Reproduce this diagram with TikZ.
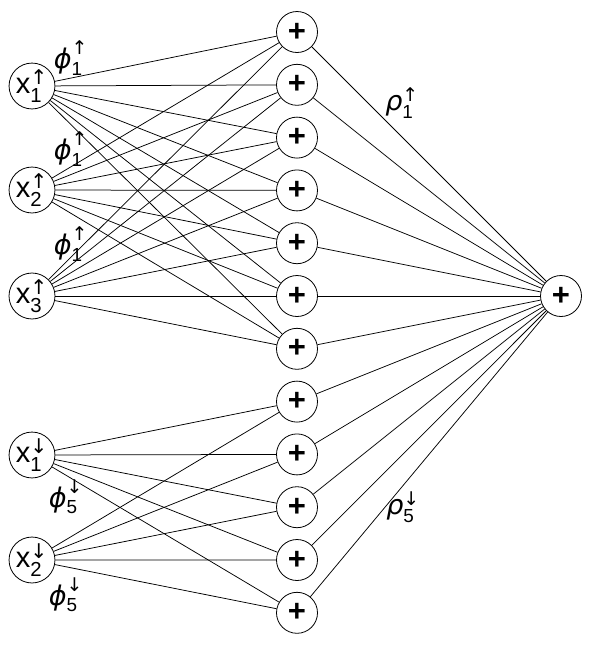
\documentclass[tikz,border=0pt]{standalone}
\usepackage{fontspec}
\usepackage{amsmath}
\setmainfont{Liberation Sans}
\newfontfamily\grk{DejaVu Sans}
\newcommand{\upar}{\text{\grk ↑}}
\newcommand{\dnar}{\text{\grk ↓}}
\newcommand{\gphi}{\text{\grk\itshape ϕ}}
\newcommand{\grho}{\text{\grk\itshape ρ}}
\begin{document}
\begin{tikzpicture}[x=1pt,y=-1pt,
  unit/.style={circle,draw,minimum size=41pt,inner sep=0pt,line width=0.8pt,font=\fontsize{29}{32}\selectfont},
  plus/.style={unit,font=\fontsize{31}{34}\selectfont\bfseries},
  conn/.style={line width=0.75pt},
  lbl/.style={font=\fontsize{27}{30}\selectfont,inner sep=0pt}]
\useasboundingbox (0,0) rectangle (598,649);
% left nodes
\node[unit] (u1) at (32,86) {$\text{x}^{\upar}_{\text{1}}$};
\node[unit] (u2) at (32,190) {$\text{x}^{\upar}_{\text{2}}$};
\node[unit] (u3) at (32,296) {$\text{x}^{\upar}_{\text{3}}$};
\node[unit] (d1) at (32,455) {$\text{x}^{\dnar}_{\text{1}}$};
\node[unit] (d2) at (32,560) {$\text{x}^{\dnar}_{\text{2}}$};
% middle nodes
\foreach \i in {1,...,12} {
  \node[plus] (m\i) at (297,{32+52.8*(\i-1)}) {+};
}
\node[plus] (out) at (561,296) {+};
% connections
\foreach \a in {u1,u2,u3} {
  \foreach \i in {1,...,7} {
    \draw[conn] (\a) -- (m\i);
  }
}
\foreach \a in {d1,d2} {
  \foreach \i in {8,...,12} {
    \draw[conn] (\a) -- (m\i);
  }
}
\foreach \i in {1,...,12} {
  \draw[conn] (m\i) -- (out);
}
% labels
\node[lbl] (p1) at (71,58) {$\gphi^{\upar}_{\text{1}}$};
\node[lbl] (p2) at (71,149) {$\gphi^{\upar}_{\text{1}}$};
\node[lbl] (p3) at (71,244) {$\gphi^{\upar}_{\text{1}}$};
\node[lbl] (p4) at (66,497) {$\gphi^{\dnar}_{\text{5}}$};
\node[lbl] (p5) at (66,595) {$\gphi^{\dnar}_{\text{5}}$};
\node[lbl] (r1) at (402,103) {$\grho^{\upar}_{\text{1}}$};
\node[lbl] (r2) at (403,507) {$\grho^{\dnar}_{\text{5}}$};
\end{tikzpicture}
\end{document}
